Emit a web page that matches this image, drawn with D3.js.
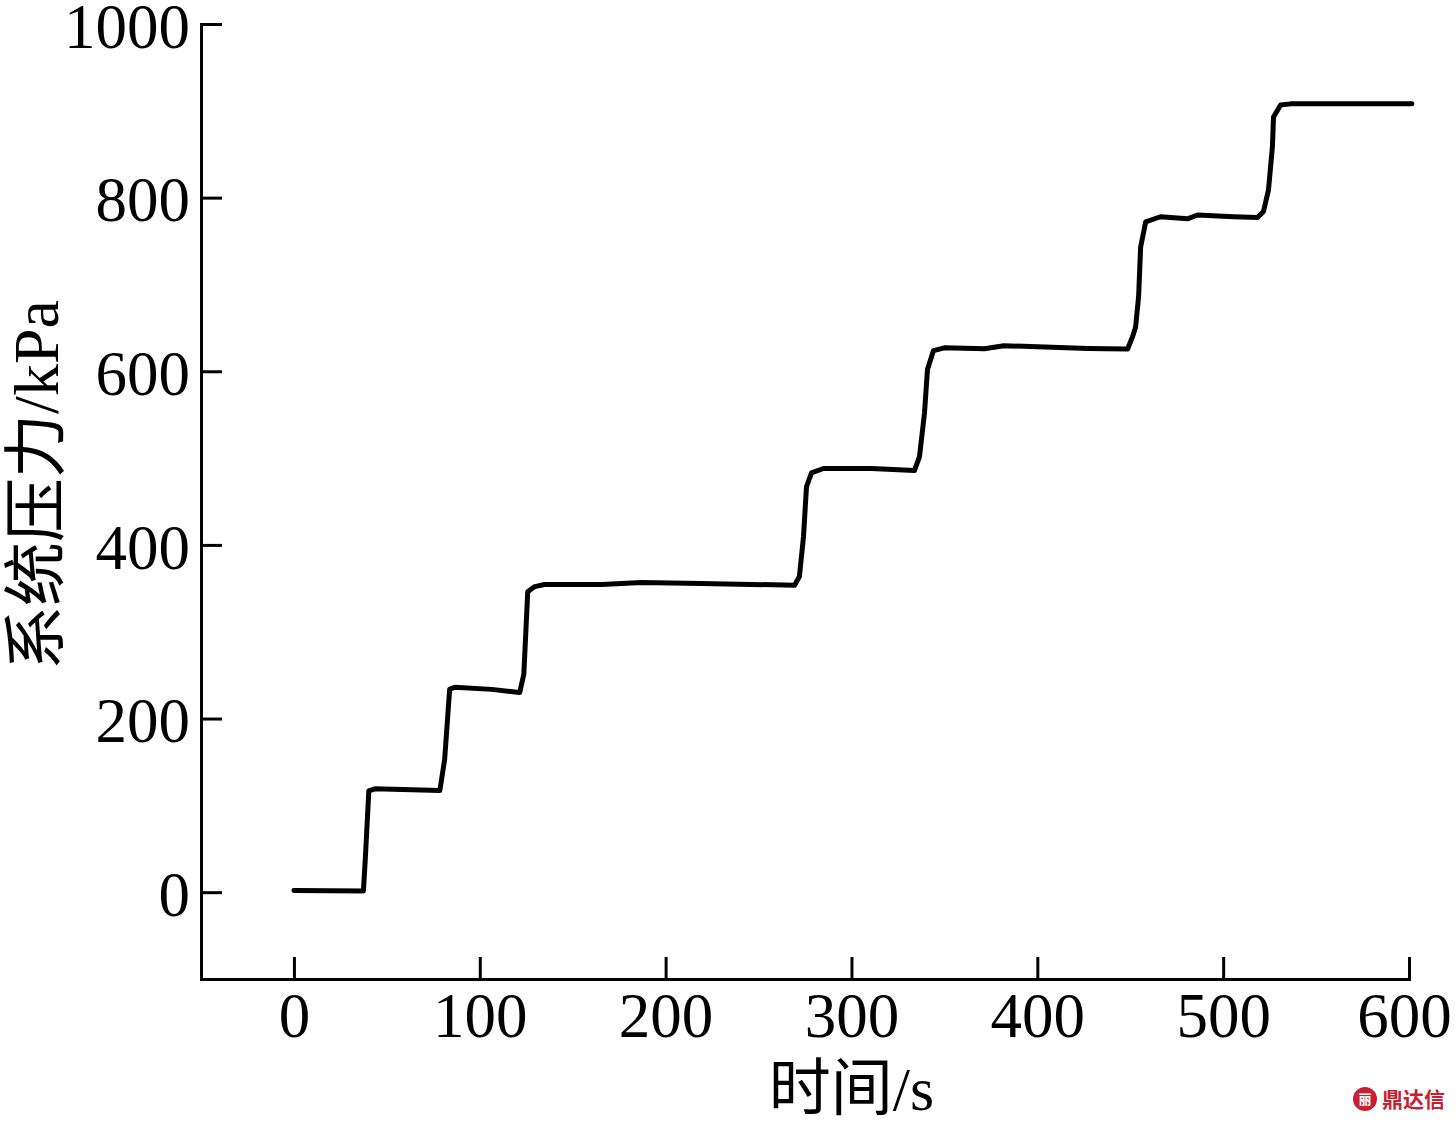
<!DOCTYPE html>
<html>
<head>
<meta charset="utf-8">
<script src="https://cdn.jsdelivr.net/npm/d3@7"></script>
<style>
  body { margin: 0; background: #fff; }
  svg text { font-family: "Liberation Serif", "Times New Roman", "Noto Sans CJK SC", serif; fill: #000; }
</style>
</head>
<body>
<script>
const WIDTH = 1455;
const HEIGHT = 1122;

// time (s) and system pressure (kPa)
var time = [0, 37.4, 38.4, 40.3, 43.5, 78.5, 79.6, 81.1, 83.8, 86.5, 106.4, 121.5, 123.7, 125.8, 129.6,
    134.9, 165.6, 187, 219, 269.4, 272, 274.2, 275.8, 278.5, 284.9, 310.7, 333.9, 336.6, 339.3, 340.9,
    344.1, 350, 371.5, 382, 427.1, 448.6, 451.3, 452.9, 454.5, 455.6, 458.3, 466.3, 480.8, 486.2,
    505.6, 518.5, 521.7, 524.4, 526.5, 527.1, 530.9, 536.3, 601.5];
var pressure = [2, 1.5, 38, 116.6, 119, 117, 132, 153, 233.6, 236, 233.6, 230, 251, 346, 352,
    354.4, 354.4, 356.7, 355.6, 353.6, 363.6, 409.7, 467, 483, 488, 488, 485.6, 501.7, 552, 602,
    623.7, 627, 626, 629.5, 626.3, 625.7, 640, 651, 686, 743, 772, 778, 775.6, 780,
    778, 777, 784, 809, 858.5, 893, 906.8, 908, 908];
var xTicks = [0, 100, 200, 300, 400, 500, 600];
var yTicks = [0, 200, 400, 600, 800, 1000];
var xTitle = '时间/s';
var yTitle = '系统压力/kPa';

var svg = d3.select('body').append('svg')
    .attr('width', WIDTH)
    .attr('height', HEIGHT);

var x = d3.scaleLinear().domain([-50, 600]).range([201, 1409]);
var y = d3.scaleLinear().domain([-100, 1000]).range([979, 24]);

var xAxis = svg.append('g')
    .attr('transform', 'translate(0,979)')
    .call(d3.axisBottom(x).tickValues(xTicks).tickFormat(d3.format('d'))
        .tickSizeInner(-22).tickSizeOuter(0).tickPadding(13));
var yAxis = svg.append('g')
    .attr('transform', 'translate(201,0)')
    .call(d3.axisLeft(y).tickValues(yTicks).tickFormat(d3.format('d'))
        .tickSizeInner(-21).tickSizeOuter(0).tickPadding(11));

[xAxis, yAxis].forEach(function(a) {
    a.attr('font-family', null).attr('font-size', null);
    a.select('.domain').attr('stroke', '#000').attr('stroke-width', 3).attr('stroke-linecap', 'square');
    a.selectAll('.tick line').attr('stroke', '#000').attr('stroke-width', 3);
    a.selectAll('.tick text').style('font-size', '63px');
});
yAxis.selectAll('.tick text').attr('dy', '0.37em');
// last x label sits a little left of its tick, as in the original
xAxis.selectAll('.tick text').filter(function(d) { return d === 600; }).attr('dx', -5);

var line = d3.line()
    .x(function(d, i) { return x(time[i]); })
    .y(function(d) { return y(d); });

svg.append('path')
    .datum(pressure)
    .attr('d', line)
    .attr('fill', 'none')
    .attr('stroke', '#000')
    .attr('stroke-width', 5)
    .attr('stroke-linejoin', 'round')
    .attr('stroke-linecap', 'round');

svg.append('text')
    .attr('x', x(300))
    .attr('y', 1110)
    .attr('text-anchor', 'middle')
    .style('font-size', '62px')
    .text(xTitle);

svg.append('text')
    .attr('transform', 'translate(58,485) rotate(-90)')
    .attr('text-anchor', 'middle')
    .style('font-size', '64px')
    .text(yTitle);

// watermark
var mark = svg.append('g').attr('transform', 'translate(1365,1099)');
mark.append('circle').attr('r', 12).attr('fill', '#c8202f');
mark.append('text')
    .attr('x', 0).attr('y', 5)
    .attr('text-anchor', 'middle')
    .style('font-size', '13px')
    .style('font-weight', 'bold')
    .style('fill', '#fff')
    .text('丽');
mark.append('text')
    .attr('x', 17).attr('y', 8)
    .style('font-family', '"Noto Sans CJK SC", sans-serif')
    .style('font-size', '21px')
    .style('font-weight', 'bold')
    .style('fill', '#c8202f')
    .text('鼎达信');
</script>
</body>
</html>
